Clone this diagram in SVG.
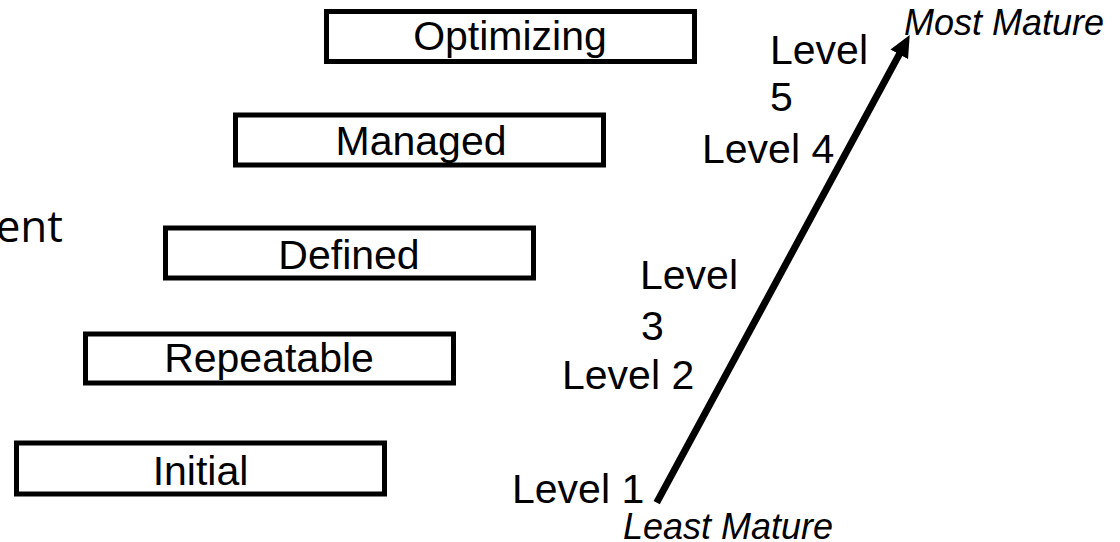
<svg xmlns="http://www.w3.org/2000/svg" width="1120" height="542" viewBox="0 0 1120 542">
  <style>
    .box rect { fill: #ffffff; stroke: #000000; stroke-width: 5; }
    .box text { font-family: "Liberation Sans", Arial, sans-serif; font-size: 41px; fill: #000000; text-anchor: middle; }
    .lvl { font-family: "Liberation Sans", Arial, sans-serif; font-size: 41px; fill: #000000; }
    .end { font-family: "Liberation Sans", Arial, sans-serif; font-size: 36px; font-style: italic; fill: #000000; }
    .side { font-family: "Open Sans", "Noto Sans", sans-serif; font-size: 44px; fill: #000000; text-anchor: end; }
  </style>
  <defs>
    <marker id="head" markerUnits="userSpaceOnUse" viewBox="0 0 22 20" refX="2" refY="10" markerWidth="22" markerHeight="20" orient="auto">
      <path d="M0,0 L22,10 L0,20 Z" fill="#000000"/>
    </marker>
  </defs>

  <rect width="1120" height="542" fill="#ffffff"/>

  <!-- clipped caption on the far left -->
  <text class="side" x="63" y="242">ent</text>

  <!-- maturity stages -->
  <g id="optimizing" class="box">
    <rect x="326.5" y="11.5" width="368" height="50"/>
    <text x="510" y="50">Optimizing</text>
  </g>
  <g id="managed" class="box">
    <rect x="235.5" y="115" width="368" height="50"/>
    <text x="421" y="155">Managed</text>
  </g>
  <g id="defined" class="box">
    <rect x="165.5" y="228" width="368" height="50"/>
    <text x="349" y="269">Defined</text>
  </g>
  <g id="repeatable" class="box">
    <rect x="85.5" y="334" width="368" height="49"/>
    <text x="269" y="372">Repeatable</text>
  </g>
  <g id="initial" class="box">
    <rect x="16.5" y="443" width="368" height="51"/>
    <text x="200.5" y="484.5">Initial</text>
  </g>

  <!-- maturity axis -->
  <g id="connectors">
    <line x1="656.7" y1="502.7" x2="900.2" y2="52.6" stroke="#000000" stroke-width="7" marker-end="url(#head)"/>
  </g>

  <!-- level labels -->
  <g id="labels">
    <text class="lvl" x="770" y="64">Level</text>
    <text class="lvl" x="770" y="111">5</text>
    <text class="lvl" x="702" y="163">Level 4</text>
    <text class="lvl" x="640" y="289">Level</text>
    <text class="lvl" x="641" y="340">3</text>
    <text class="lvl" x="562" y="389">Level 2</text>
    <text class="lvl" x="512" y="503">Level 1</text>
    <text class="end" x="904" y="35">Most Mature</text>
    <text class="end" x="623" y="539">Least Mature</text>
  </g>
</svg>
